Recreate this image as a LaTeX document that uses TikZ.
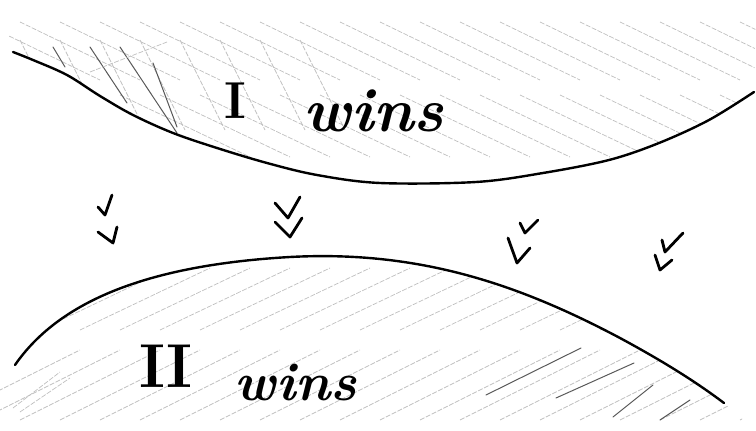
\documentclass[tikz,border=0pt]{standalone}
\usetikzlibrary{calc}

% the two boundary curves, in pixel units
\newcommand\upperrim{plot[smooth, tension=0.55] coordinates {(13,52) (33,60) (67,75) (100,96) (133,115) (173,133) (217,148) (267,163) (317,175) (380,183) (476,182) (543,173) (609,160) (659,143) (709,120) (754,92)}}
\newcommand\lowerrim{(15,365) .. controls (60,300) and (150,265) .. (290,257) .. controls (420,250) and (520,285) .. (620,338) .. controls (670,365) and (700,385) .. (724,403)}

\begin{document}
\begin{tikzpicture}[x=1pt, y=-1pt,
        rim/.style={line width=2.4pt, line cap=round, line join=round},
        hatch/.style={gray!50, line width=0.7pt, dash pattern=on 5pt off 1.5pt},
        darkhatch/.style={black!65, line width=1pt, line cap=round},
        vee/.style={line width=2.8pt, line cap=round, line join=round},
        bigtext/.style={inner sep=0pt, anchor=base}
    ]
    \useasboundingbox (0,0) rectangle (756,431);

    % hatching of the upper region
    \begin{scope}
        \clip \upperrim -- (756,0) -- (0,0) -- cycle;
        \foreach \x in {-60,-20,...,740}
            \draw[hatch] (\x,22) -- ++(120,58);
        \foreach \x in {-40,0,...,740}
            \draw[hatch] (\x,95) -- ++(130,62);
        \foreach \x in {-20,20,...,300}
            \draw[hatch] (\x,40) -- ++(45,90);
        \draw[darkhatch] (90,47) -- (127,103);
        \draw[darkhatch] (120,47) -- (177,133);
        \draw[darkhatch] (153,63) -- (177,127);
        \draw[darkhatch] (53,47) -- (65,67);
        \draw[hatch] (90,72) -- (167,42);
    \end{scope}

    % hatching of the lower region
    \begin{scope}
        \clip \lowerrim -- (756,431) -- (0,431) -- (0,365) -- cycle;
        \foreach \x in {-40,0,...,760}
            \draw[hatch] (\x,330) -- ++(130,-62);
        \foreach \x in {-60,-20,...,760}
            \draw[hatch] (\x,420) -- ++(140,-70);
        \draw[darkhatch] (486,395) -- (581,348);
        \draw[darkhatch] (556,398) -- (634,363);
        \draw[darkhatch] (613,417) -- (653,385);
        \draw[darkhatch] (660,420) -- (690,400);
        \draw[hatch] (13,408) -- (60,372);
        \draw[hatch] (20,412) -- (70,378);
    \end{scope}

    % the two boundaries
    \draw[rim] \upperrim;
    \draw[rim] \lowerrim;

    % labels
    \node[bigtext, font=\fontsize{52}{52}\selectfont\bfseries] (one) at (235,118) {I};
    \node[bigtext, font=\fontsize{62}{62}\selectfont\bfseries\itshape] (onewins) at (374,131) {wins};
    \node[bigtext, font=\fontsize{62}{62}\selectfont\bfseries] (two) at (166,387) {II};
    \node[bigtext, font=\fontsize{54}{54}\selectfont\bfseries\itshape] (twowins) at (296,400) {wins};

    % direction marks between the regions
    \foreach \ax/\ay/\bx/\by/\cx/\cy in {
            98/207/105/215/112/195,
            98/232/113/243/117/227,
            275/203/288/218/300/197,
            275/222/290/237/302/218,
            520/223/525/233/538/220,
            508/238/517/263/530/248,
            662/240/665/252/683/233,
            655/255/660/270/672/260}
        \draw[vee] (\ax,\ay) -- (\bx,\by) -- (\cx,\cy);
\end{tikzpicture}
\end{document}
